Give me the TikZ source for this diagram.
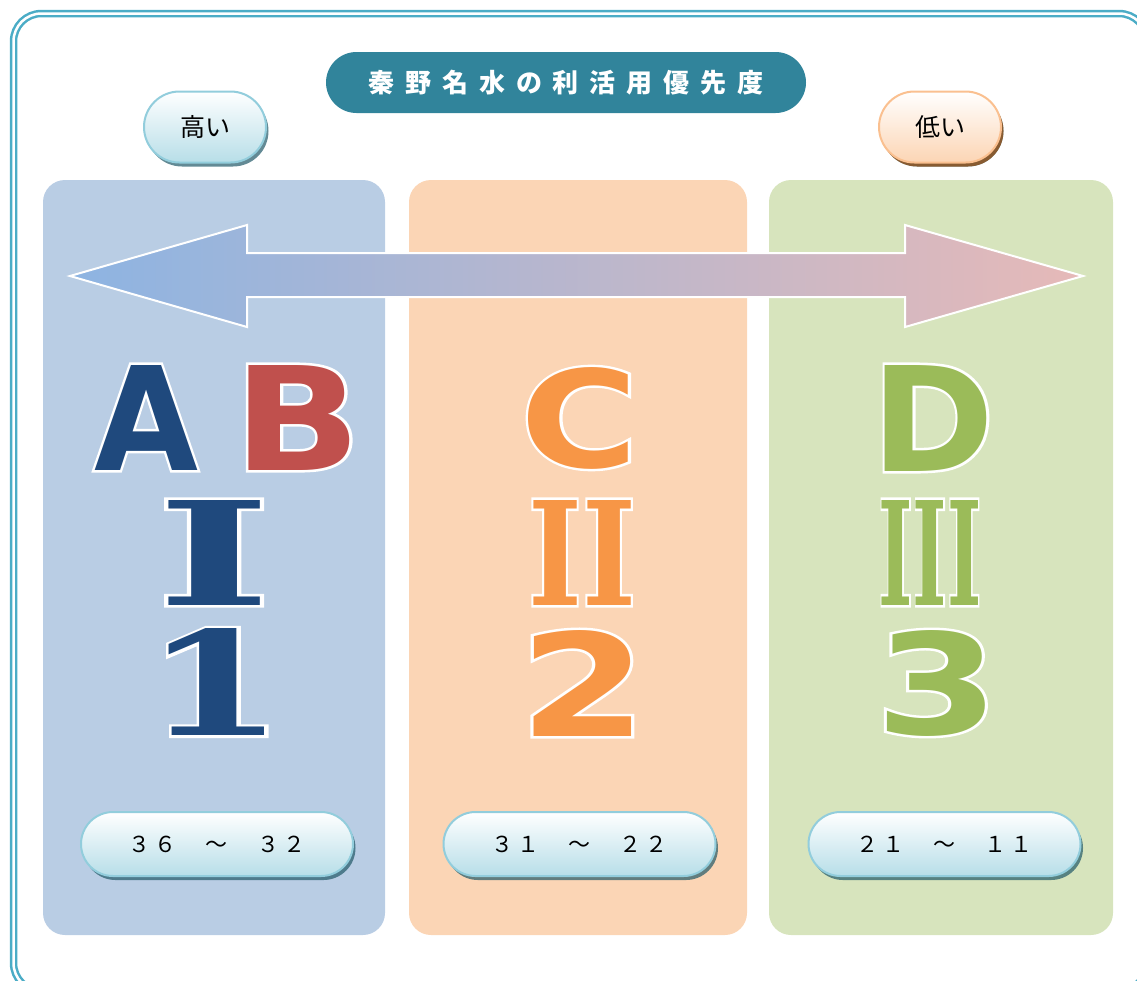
\documentclass[tikz,border=0pt]{standalone}
\usepackage{fontspec}
\usepackage{graphicx}
\usetikzlibrary{shapes.misc,shadows}

\setmainfont{Noto Sans CJK JP}
\newfontfamily\titulofont[LetterSpace=42]{Noto Sans CJK JP}
\newfontfamily\rangofont[LetterSpace=17]{Noto Sans CJK JP}
\newfontfamily\letrasans{DejaVu Sans Bold}
\newfontfamily\letraserif{DejaVu Serif Bold}
\newfontfamily\bordesans[FakeBold=3.5]{DejaVu Sans Bold}
\newfontfamily\bordeserif[FakeBold=3.5]{DejaVu Serif Bold}

\definecolor{marcocolor}{RGB}{75,172,198}
\definecolor{titulocolor}{RGB}{49,132,155}
\definecolor{panelazul}{RGB}{185,205,228}
\definecolor{panelnaranja}{RGB}{251,213,181}
\definecolor{panelverde}{RGB}{215,228,189}
\definecolor{flechaazul}{RGB}{141,180,226}
\definecolor{flecharosa}{RGB}{230,185,184}
\definecolor{azuloscuro}{RGB}{31,73,125}
\definecolor{rojo}{RGB}{192,80,77}
\definecolor{naranja}{RGB}{247,150,70}
\definecolor{verde}{RGB}{155,187,89}
\definecolor{cianclaro}{RGB}{183,222,232}
\definecolor{cianborde}{RGB}{146,205,220}
\definecolor{cianosombra}{RGB}{33,89,104}
\definecolor{melocoton}{RGB}{252,213,180}
\definecolor{melocotonborde}{RGB}{250,192,144}
\definecolor{marronsombra}{RGB}{152,72,7}

% glifo grande con borde blanco: fuente del borde, ancho, alto, texto
\newcommand{\glifo}[4]{\resizebox{#2pt}{#3pt}{\rlap{\color{white}#1#4}#4}}

\tikzset{
  marco/.style={draw=marcocolor, line width=2.5pt, double=white, double distance=2.5pt, rounded corners=28pt},
  titulo/.style={rounded rectangle, fill=titulocolor, text=white, minimum width=480pt, minimum height=61pt, inner sep=0pt,
    font=\titulofont\bfseries\fontsize{26}{26}\selectfont},
  pildora/.style={rounded rectangle, draw=cianborde, line width=2pt, top color=white, bottom color=cianclaro, inner sep=0pt,
    drop shadow={shadow xshift=2.5pt, shadow yshift=-4pt, fill=cianosombra, opacity=0.7},
    font=\fontsize{25}{25}\selectfont},
  pildora naranja/.style={pildora, draw=melocotonborde, bottom color=melocoton,
    drop shadow={shadow xshift=2.5pt, shadow yshift=-4pt, fill=marronsombra, opacity=0.7}},
  rango/.style={pildora, minimum width=272pt, minimum height=64pt, font=\rangofont\fontsize{22}{22}\selectfont},
  flecha/.style={draw=white, line width=2pt, left color=flechaazul, right color=flecharosa},
  letra/.style={inner sep=0pt, font=\letrasans\fontsize{144}{144}\selectfont},
  romano/.style={inner sep=0pt, font=\letraserif\fontsize{144}{144}\selectfont}
}

\begin{document}
\begin{tikzpicture}[x=1pt,y=-1pt]
\useasboundingbox (0,0) rectangle (1137,980);

% Marco
\draw[marco] (13.5,13.5) rectangle (1147,991);

% Columnas
\fill[panelazul, rounded corners=22pt] (43,180) rectangle (385,935);
\fill[panelnaranja, rounded corners=22pt] (409,180) rectangle (747,935);
\fill[panelverde, rounded corners=22pt] (769,180) rectangle (1113,935);

% Titulo
\node[titulo] (titulo) at (566,82.5) {秦野名水の利活用優先度};

% Alto y bajo
\node[pildora, minimum width=122pt, minimum height=71pt] (alto) at (205,127) {高い};
\node[pildora naranja, minimum width=122pt, minimum height=71pt] (bajo) at (940,127) {低い};

% Flecha doble
\shadedraw[flecha] (70,276) -- (247,225) -- (247,253) -- (905,253) -- (905,225) -- (1083,276)
  -- (905,327) -- (905,297) -- (247,297) -- (247,327) -- cycle;

% Letras
\node[letra, text=azuloscuro] (A) at (146,417.5) {\glifo{\bordesans}{104}{105}{A}};
\node[letra, text=rojo] (B) at (297.5,417.5) {\glifo{\bordesans}{128}{105}{B}};
\node[letra, text=naranja] (C) at (579.5,418) {\glifo{\bordesans}{118}{100}{C}};
\node[letra, text=verde] (D) at (933,418) {\glifo{\bordesans}{123}{106}{D}};

% Numeros romanos
\node[romano, text=azuloscuro] (I) at (214,552.5) {\glifo{\bordeserif}{114}{105}{I}};
\node[romano, text=naranja] (II) at (582,552.5) {\glifo{\bordeserif}{108}{105}{II}};
\node[romano, text=verde] (III) at (930,552.5) {\glifo{\bordeserif}{103}{105}{III}};

% Cifras
\node[romano, text=azuloscuro] (uno) at (215,682) {\glifo{\bordeserif}{140}{107}{1}};
\node[letra, text=naranja] (dos) at (583,683) {\glifo{\bordesans}{128}{106}{2}};
\node[letra, text=verde] (tres) at (937,683) {\glifo{\bordesans}{124}{104}{3}};

% Rangos
\node[rango] (rangoA) at (217,844) {３６　～　３２};
\node[rango] (rangoC) at (579.5,844) {３１　～　２２};
\node[rango] (rangoD) at (944.5,844) {２１　～　１１};
\end{tikzpicture}
\end{document}
